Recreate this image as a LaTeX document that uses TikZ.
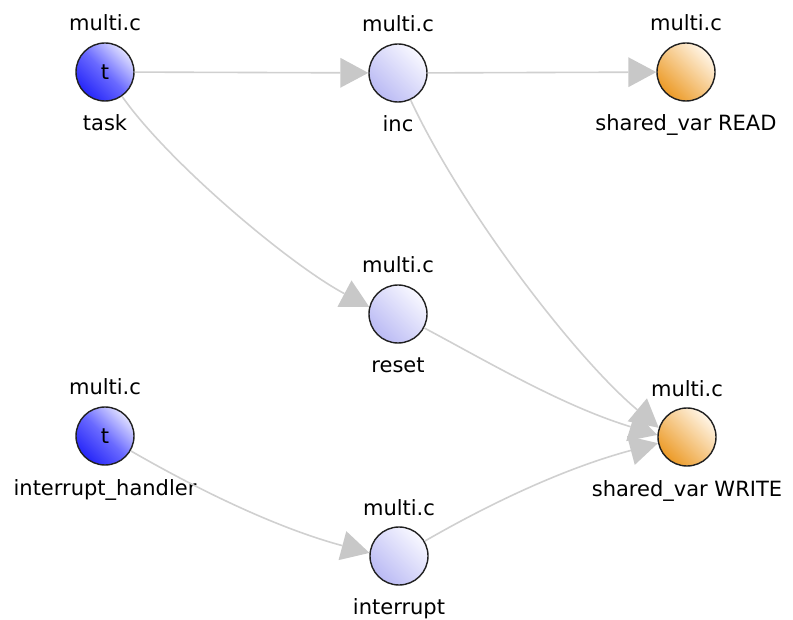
\documentclass[tikz,border=0pt]{standalone}
\usepackage{fontspec}
\setmainfont{DejaVu Sans}
\usetikzlibrary{arrows.meta}
\definecolor{edgegray}{HTML}{D0D0D0}
\definecolor{tipgray}{HTML}{C8C8C8}
\definecolor{bluedark}{HTML}{2626F8}
\definecolor{bluemid}{HTML}{6A6AFF}
\definecolor{bluelight}{HTML}{E0E0FF}
\definecolor{lavdark}{HTML}{BABAF4}
\definecolor{lavlight}{HTML}{F8F8FF}
\definecolor{orgdark}{HTML}{EC9A26}
\definecolor{orglight}{HTML}{FFF5E6}
\definecolor{rim}{HTML}{202020}
\tikzset{
  x=1pt, y=1pt,
  every node/.style={font=\fontsize{21}{24}\selectfont, text=black},
  vnode/.style={circle, draw=rim, line width=1.4pt, minimum size=58pt, inner sep=0pt},
  thread/.style={vnode, top color=bluelight, bottom color=bluedark, middle color=bluemid, shading angle=-45},
  func/.style={vnode, top color=lavlight, bottom color=lavdark, shading angle=-45},
  svar/.style={vnode, top color=orglight, bottom color=orgdark, shading angle=-45},
  lbl/.style={anchor=base, inner sep=0pt},
  edge/.style={draw=edgegray, line width=1.6pt,
    -{Triangle[length=28pt, width=30pt, color=tipgray, fill=tipgray, line width=0pt]}}
}
\begin{document}
\begin{tikzpicture}
\useasboundingbox (0,0) rectangle (793,-620);
% nodes
\node[thread] (task) at (105,-72) {t};
\node[func] (inc) at (398,-73) {};
\node[svar] (read) at (686,-72) {};
\node[func] (reset) at (398,-314) {};
\node[thread] (ih) at (105,-436) {t};
\node[svar] (write) at (687,-437) {};
\node[func] (intr) at (399,-556) {};
% labels
\node[lbl] (task-f) at (105,-31) {multi.c};
\node[lbl] (task-n) at (105,-131) {task};
\node[lbl] (inc-f) at (398,-32) {multi.c};
\node[lbl] (inc-n) at (398,-132) {inc};
\node[lbl] (read-f) at (686,-31) {multi.c};
\node[lbl] (read-n) at (686,-131) {shared\_var READ};
\node[lbl] (reset-f) at (398,-273) {multi.c};
\node[lbl] (reset-n) at (398,-373) {reset};
\node[lbl] (ih-f) at (105,-395) {multi.c};
\node[lbl] (ih-n) at (105,-495) {interrupt\_handler};
\node[lbl] (write-f) at (687,-396) {multi.c};
\node[lbl] (write-n) at (687,-496) {shared\_var WRITE};
\node[lbl] (intr-f) at (399,-515) {multi.c};
\node[lbl] (intr-n) at (399,-614) {interrupt};
% edges
\draw[edge] (task) -- (inc);
\draw[edge] (inc) -- (read);
\draw[edge] (task) .. controls +(-55:110) and +(152:90) .. (reset.166);
\draw[edge] (inc) .. controls +(-65:150) and +(140:110) .. (write.162);
\draw[edge] (reset) .. controls +(-28:100) and +(163:100) .. (write.176);
\draw[edge] (ih) .. controls +(-30:100) and +(165:100) .. (intr.174);
\draw[edge] (intr) .. controls +(30:100) and +(195:100) .. (write.192);
\end{tikzpicture}
\end{document}
